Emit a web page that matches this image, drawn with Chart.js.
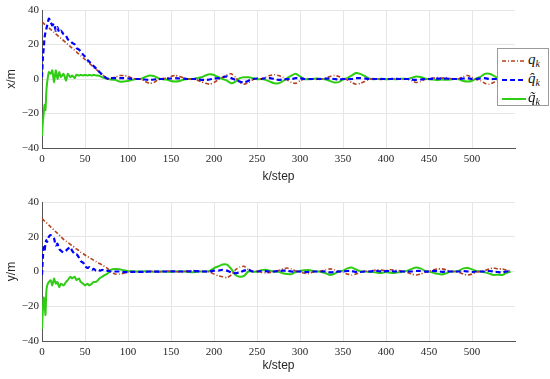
<!DOCTYPE html>
<html>
<head>
<meta charset="utf-8">
<script src="https://cdn.jsdelivr.net/npm/chart.js@4.4.1/dist/chart.umd.min.js"></script>
<style>
  html, body { margin:0; padding:0; background:#fff; }
  #wrap { position:relative; width:550px; height:379px; overflow:hidden; }
  canvas { position:absolute; left:0; }
  #legend { position:absolute; left:497px; top:48px; width:50px; height:56px; border:1px solid #9a9a9a; background:#fff; font-family:"Liberation Serif", serif; }
  .row { position:absolute; left:4px; height:18px; white-space:nowrap; }
  .row svg { position:absolute; left:0; top:6px; }
  .row span { position:absolute; left:26px; top:0; font-style:italic; font-size:15px; line-height:15px; color:#111; }
  .row sub { font-size:10px; vertical-align:-3px; }
</style>
</head>
<body>
<div id="wrap">
  <canvas id="c1" width="550" height="190" style="top:0"></canvas>
  <canvas id="c2" width="550" height="189" style="top:190px"></canvas>
  <div id="legend"></div>
</div>
<script>
// step index k (shared by both panels)
const kSteps = [0,1,2,3,4,5,6,8,10,12,14,16,18,20,22,25,28,30,33,35,38,40,43,45,48,50,53,55,58,60,63,65,68,70,73,75,78,80,
  85,90,95,100,105,110,115,120,125,130,135,140,145,150,155,160,165,170,175,180,185,190,195,200,205,210,215,220,225,230,
  235,240,245,250,255,260,265,270,275,280,285,290,295,300,305,310,315,320,325,330,335,340,345,350,355,360,365,370,375,380,
  385,390,395,400,405,410,415,420,425,430,435,440,445,450,455,460,465,470,475,480,485,490,495,500,505,510,515,520,525,530,
  535,540,545];

// top panel: x/m
const xTrue = [33,32.6,32.2,31.7,31.3,30.9,30.5,29.7,28.8,28,27.1,26.2,25.3,24.5,23.6,22.3,21,20.1,18.8,17.9,16.6,15.7,14.4,13.5,12.2,11.3,10,9.1,7.8,6.9,5.6,4.7,3.4,2.6,1.3,0.6,0,0.3,
  1,2,2,1.5,0.5,0,0,-1.5,-2.5,-2,
  -0.5,0.2,0.5,1.5,2,1.5,0.5,0,0,-0.5,
  -1.5,-2.5,-3,-2,-0.5,1,2.5,3,1,-2,
  -3,-2,-0.5,0.5,0,1,2,2.5,2,1,
  -0.5,-2,-2.5,-1,0,0.2,0,-0.3,0,0.5,
  1.5,2,1.5,0.3,-0.5,-2,-3,-2.5,-1.5,-0.3,
  0.2,0,-0.2,0.2,0,0.2,0,-0.2,0,-1,
  -2,-1.5,-0.3,0.2,0.5,0.8,0.5,0.8,0.3,0,
  0.2,1.5,2,1,-0.3,-1,-2.5,-3,-2,-0.5,
  0.5,1.5,1.5];
const xEst = [1,12,18,24,27,29,31,35,33,31,32,28,30,27,28,26,25,23,22,21,20,18,17,16,14,13,11,10,8.5,7.5,6,5,3.5,2.5,1.2,0.5,0,0.5,
  0.5,0.5,0.5,0.3,0,0,0,-0.3,-0.5,-0.3,
  0,0,0.2,0.3,0.5,0.3,0.2,0,0,0,
  -0.5,-0.5,-0.3,0.3,0.5,1,1.5,0.5,-0.5,-1.5,
  -2,-1,0,0.3,0,0.5,0.5,0,-0.5,-0.3,
  0,0,0.5,0.5,0,0,0,0,0,0.2,
  0.3,0,-0.3,0,0,0,0.5,0.5,0.3,0,
  0,0,0,0,0,0.1,0,0,0,-0.3,
  -0.5,-0.3,0,0,0.2,0.2,0.2,0.3,0,0,
  0,0.3,0.5,0,0,0.3,0.5,0,0,0,
  0,0.5,0.3];
const xErr = [-33,-25,-20,-15,-18,-8,-2,4,3,5,-2,5,0,4,1,3,-1,3,1,2,0.5,2.5,2,2.5,2,2.5,2,2.5,2,2.5,2,2,1.5,1,0.5,0.3,0,-0.3,
  -0.5,-1.5,-1.5,-1.2,-0.5,0,0,1.2,2,1.7,
  0.5,-0.2,-0.3,-1.2,-1.5,-1.2,-0.3,0,0,0.5,
  1,2,2.7,2.3,1,0,-1,-2.5,-1.5,0.5,
  1,1,0.5,-0.2,0,-0.5,-1.5,-2.5,-2.5,-1.3,
  0.5,2,3,1.5,0,-0.2,0,0.3,0,-0.3,
  -1.2,-2,-1.8,-0.3,0.5,2,3.5,3,1.8,0.3,
  -0.2,0,0.2,-0.2,0,-0.1,0,0.2,0,0.7,
  1.5,1.2,0.3,-0.2,-0.3,-0.6,-0.3,-0.5,-0.3,0,
  -0.2,-1.2,-1.5,-1,0.3,1.3,3,3,2,0.5,
  -0.5,-1,-1.2];

// bottom panel: y/m
const yTrue = [30.5,30,29.5,29,28.6,28.1,27.6,26.7,25.7,24.8,23.8,22.9,21.9,21,20,18.5,17.4,16.7,15.6,14.9,13.8,13,12,11.2,10.2,9.5,8.6,8,7.1,6.5,5.6,5,4.3,3.8,2.8,2.2,1,0,
  -1.5,-1.5,-1,-0.5,-0.3,-0.3,-0.2,-0.3,0,0.2,
  -0.3,0,0.2,0.3,0,-0.2,0,0.3,0.5,0.3,
  0,0,-0.3,-1.5,-2.5,-3,-3.5,-2,1,2.5,
  3,1,0,0.2,-0.5,-0.8,-0.5,0,0.5,1.5,
  2,1.5,0.3,-0.3,-1,-1.2,-0.3,0,0.3,1,
  1.5,1,0,-0.5,-1.5,-2,-1.5,-0.5,0,0.2,
  0.5,1,0.8,0.5,1,0.8,0.5,0,-0.5,-1.5,
  -2,-1.5,-0.5,0,1,1.5,1.5,1,0,0,
  -0.5,-1.5,-2,-1.5,-0.3,0,0.5,1.5,2,1.5,
  1.5,0.8,0.2];
const yEst = [-2,8,14,12,16,18,17,20,21,20,19,15,16,13,12,11,12,13,14,12,10,10,8,6,5,3,2,2.5,1,1.5,0.5,1,0.5,1,0.5,0.5,0.3,0,
  0,0,-0.3,-0.3,-0.2,-0.3,-0.2,-0.2,0,0,
  -0.1,0,0,0.1,0,0,0,0.1,0,0.2,
  0,0,0,0.5,0.5,1,0.5,-0.5,-1,-0.5,
  0.5,1,0,0,0.3,0.2,0,0,0.3,0.5,
  0.5,0,0,0,-0.3,-0.3,0,0,0,0,
  -0.5,-0.3,0,0,0.3,0.3,-0.3,-0.3,0,0,
  0.2,0.3,0,0.2,0.3,0,0,0,0,0,
  0.3,0.3,0,0,0.3,0.2,-0.2,0,0,0,
  0,0.3,0,-0.3,0,0,0,0.3,0,-0.3,
  -0.5,0,0];
const yErr = [-33,-22,-15,-18,-25,-12,-8,-6,-5,-8,-4,-7,-6,-9,-7,-8,-6,-5,-3,-4,-3,-5,-4,-6,-7,-8,-7,-8,-7,-6,-6,-5,-3.5,-3,-2,-1.5,-0.5,1,
  1.5,1.3,0.7,0.2,0.1,0,0,0.1,0,-0.2,
  0.2,0,-0.2,-0.2,0,0.2,0,-0.2,-0.5,-0.1,
  0,0,0.3,2,3,4,4,1.5,-2,-3,
  -2.5,0,0,-0.2,0.8,1,0.5,0,-0.2,-1,
  -1.5,-1.5,-0.3,0.3,0.7,0.9,0.3,0,-0.3,-1,
  -2,-1.3,0,0.5,1.8,2.3,1.2,0.2,0,-0.2,
  -0.3,-0.7,-0.8,-0.3,-0.7,-0.8,-0.5,0,0.5,1.5,
  2.3,1.8,0.5,0,-0.7,-1.3,-1.7,-1,0,0,
  0.5,1.8,2,1.2,0.3,0,-0.5,-1.2,-2,-1.8,
  -2,-0.8,-0.2];

const xTicks = [0,50,100,150,200,250,300,350,400,450,500];
const yTicks = [-40,-20,0,20,40];
const seriesNames = ['q', 'q\u0302', 'q\u0303'];

const RED = '#b3411c', BLUE = '#0000ff', GREEN = '#2fcc14';

function pts(vals) { return vals.map((v, i) => ({ x: kSteps[i], y: v })); }

function makeChart(id, yLabel, trueV, estV, errV, padTop, xAxisH) {
  const ctx = document.getElementById(id).getContext('2d');
  return new Chart(ctx, {
    type: 'line',
    data: {
      datasets: [
        { label: seriesNames[0], data: pts(trueV), borderColor: RED, borderWidth: 1.6, borderDash: [4,2,1,2], pointRadius: 0, tension: 0.2, order: 2 },
        { label: seriesNames[1], data: pts(estV), borderColor: BLUE, borderWidth: 2.2, borderDash: [5,3], pointRadius: 0, tension: 0.2, order: 1 },
        { label: seriesNames[2], data: pts(errV), borderColor: GREEN, borderWidth: 2, pointRadius: 0, tension: 0.2, order: 3 }
      ]
    },
    options: {
      responsive: false, animation: false, devicePixelRatio: 1,
      layout: { padding: { top: padTop, right: 35, left: 0, bottom: 0 } },
      plugins: { legend: { display: false }, tooltip: { enabled: false } },
      scales: {
        x: {
          type: 'linear', min: 0, max: 550,
          afterFit: s => { s.height = xAxisH; },
          afterBuildTicks: s => { s.ticks = xTicks.concat([550]).map(v => ({ value: v })); },
          ticks: { callback: v => (xTicks.includes(v) ? String(v) : ''), padding: 5, maxRotation: 0, color: '#262626', font: { family: 'Liberation Serif', size: 11 } },
          grid: { drawTicks: false, color: c => (c.tick && c.tick.value === 550 ? 'rgba(0,0,0,0)' : '#e6e6e6') },
          border: { color: '#555', width: 1 },
          title: { display: true, text: 'k/step', color: '#262626', font: { family: 'Liberation Sans', size: 12 }, padding: { top: 0, bottom: 6 } }
        },
        y: {
          min: -40, max: 40,
          afterFit: s => { s.width = 42; },
          afterBuildTicks: s => { s.ticks = yTicks.map(v => ({ value: v })); },
          ticks: { callback: v => (v < 0 ? '\u2212' + Math.abs(v) : String(v)), padding: 3, color: '#262626', font: { family: 'Liberation Serif', size: 11 } },
          grid: { drawTicks: false, color: '#e6e6e6' },
          border: { color: '#555', width: 1 },
          title: { display: true, text: yLabel, color: '#262626', font: { family: 'Liberation Sans', size: 12 }, padding: { top: 4, bottom: 0 } }
        }
      }
    }
  });
}

makeChart('c1', 'x/m', xTrue, xEst, xErr, 10, 42);
makeChart('c2', 'y/m', yTrue, yEst, yErr, 12, 38);

// legend
const legendStyles = [
  { color: RED, dash: '4,2,1,2', w: 1.6 },
  { color: BLUE, dash: '5,3', w: 2.2 },
  { color: GREEN, dash: '', w: 2 }
];
const lg = document.getElementById('legend');
const rowTops = [3, 22, 41];
seriesNames.forEach((name, i) => {
  const st = legendStyles[i];
  const row = document.createElement('div');
  row.className = 'row';
  row.style.top = rowTops[i] + 'px';
  row.innerHTML = '<svg width="24" height="6"><line x1="0" y1="3" x2="24" y2="3" stroke="' + st.color +
    '" stroke-width="' + st.w + '"' + (st.dash ? ' stroke-dasharray="' + st.dash + '"' : '') + '/></svg>' +
    '<span>' + name + '<sub>k</sub></span>';
  lg.appendChild(row);
});
</script>
</body>
</html>
